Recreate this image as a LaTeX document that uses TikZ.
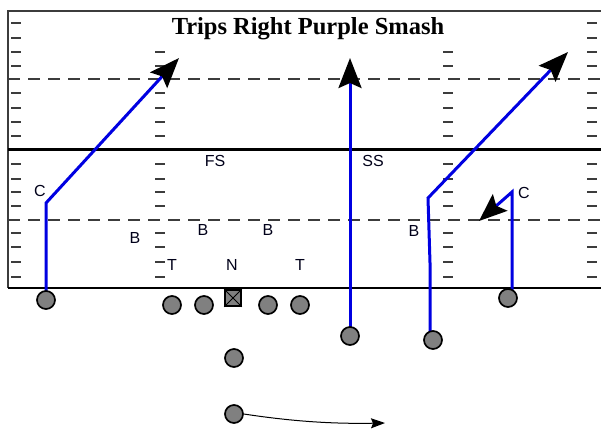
\documentclass[tikz,border=0pt]{standalone}
\usepackage{fontspec}
\setmainfont{Liberation Serif}
\newfontfamily\labelfont{Liberation Sans}
\usetikzlibrary{arrows.meta}
\definecolor{routeblue}{RGB}{0,0,225}
\definecolor{plgray}{RGB}{128,128,128}
\definecolor{hashgray}{RGB}{60,60,60}
\tikzset{
  hashmark/.style={draw=hashgray, line width=1.2pt},
  yardline/.style={draw=hashgray, line width=1.2pt, dash pattern=on 12pt off 8pt},
  player/.style={circle, draw=black, fill=plgray, line width=1.7pt, minimum size=18pt, inner sep=0pt},
  centerbox/.style={rectangle, draw=black, fill=plgray, line width=1.6pt, minimum size=16pt, inner sep=0pt},
  routeline/.style={draw=routeblue, line width=3pt, line join=miter,
     -{Stealth[length=30pt,width=23pt,inset=5pt,color=black]}},
  motion/.style={draw=black, line width=1pt, -{Stealth[length=14pt,width=10pt,inset=2pt]}},
  deflabel/.style={font=\labelfont\fontsize{16}{16}\selectfont, text=black!90!blue, inner sep=0pt, anchor=center},
  titlestyle/.style={font=\bfseries\fontsize{24.5}{24.5}\selectfont, inner sep=0pt, anchor=base}
}
\begin{document}
\begin{tikzpicture}[x=1pt,y=-1pt]
\useasboundingbox (0,0) rectangle (601,432);
% field
\foreach \y in {23,38,52,66,93,108,122,136,164,179,192,206,233,247,262,277} {
  \draw[hashmark] (11,\y) -- (21,\y);
  \draw[hashmark] (587,\y) -- (597,\y);
}
\foreach \y in {52,66,93,108,122,136,164,179,192,206,233,247,262,277} {
  \draw[hashmark] (155,\y) -- (165,\y);
  \draw[hashmark] (443,\y) -- (453,\y);
}
\draw[yardline] (8,79) -- (601,79);
\draw[yardline] (8,220) -- (601,220);
\draw[draw=hashgray, line width=1.5pt] (601,11) -- (8,11) -- (8,288);
\draw[black, line width=1.2pt] (8,288) -- (601,288);
\draw[black, line width=3pt] (8,149) -- (601,149);
% title
\node[titlestyle] (title) at (308,34) {Trips Right Purple Smash};
% defense labels
\node[deflabel] (cl) at (40,191) {C};
\node[deflabel] (fs) at (215,161) {FS};
\node[deflabel] (ss) at (373,161) {SS};
\node[deflabel] (cr) at (524,193) {C};
\node[deflabel] (b1) at (135,238) {B};
\node[deflabel] (b2) at (203,230) {B};
\node[deflabel] (b3) at (268,230) {B};
\node[deflabel] (b4) at (414,231) {B};
\node[deflabel] (t1) at (172,265) {T};
\node[deflabel] (nt) at (232,265) {N};
\node[deflabel] (t2) at (300,265) {T};
% route coordinates
\coordinate (lwrbreak) at (46,203);
\coordinate (lwrtip) at (179,58);
\coordinate (tetip) at (350,58);
\coordinate (slotjog) at (430,263);
\coordinate (slotbreak) at (428,198);
\coordinate (slottip) at (568,52);
\coordinate (wrbreak) at (512,192);
\coordinate (wrtip) at (479,221);
\coordinate (rbtip) at (385,423);
% offense players (positions)
\path (46,300) coordinate (plwr) (350,336) coordinate (pte) (433,340) coordinate (pslot) (508,298) coordinate (pwr);
% routes
\draw[routeline] (plwr) -- (lwrbreak) -- (lwrtip);
\draw[routeline] (pte) -- (tetip);
\draw[routeline] (pslot -| slotjog) -- (slotjog) -- (slotbreak) -- (slottip);
\draw[routeline, -{Stealth[length=28pt,width=22pt,inset=5pt,color=black]}] (pwr -| wrbreak) -- (wrbreak) -- (wrtip);
% players
\node[player] (lwr) at (plwr) {};
\node[player] (lt) at (172,305) {};
\node[player] (lg) at (204,305) {};
\node[centerbox] (c) at (233,298) {};
\draw[black, line width=0.8pt] (c.north west) -- (c.south east) (c.north east) -- (c.south west);
\node[player] (rg) at (268,305) {};
\node[player] (rt) at (300,305) {};
\node[player] (te) at (pte) {};
\node[player] (slot) at (pslot) {};
\node[player] (wr) at (pwr) {};
\node[player] (qb) at (234,358) {};
\node[player] (rb) at (234,414) {};
\draw[motion] (rb.east) .. controls (290,421) and (330,424) .. (rbtip);
\end{tikzpicture}
\end{document}
